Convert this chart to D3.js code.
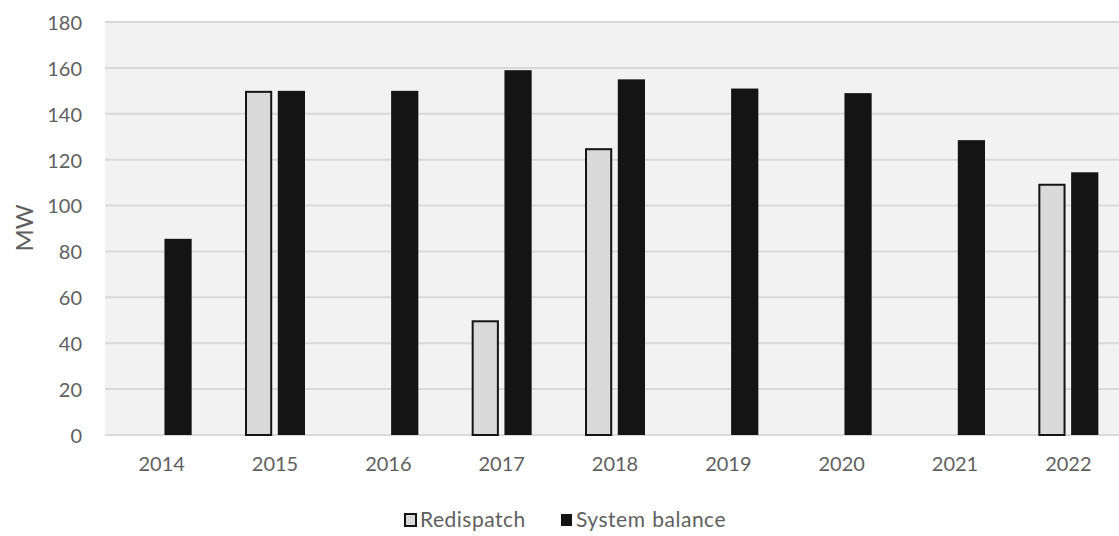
<!DOCTYPE html>
<html><head><meta charset="utf-8">
<script src="https://cdn.jsdelivr.net/npm/d3@7"></script>
<style>body{margin:0;background:#fff}svg{display:block}text{font-family:Lato,"Open Sans",sans-serif;fill:#5f5f5f}</style>
</head><body>
<script>
const years = ["2014","2015","2016","2017","2018","2019","2020","2021","2022"];
const redispatch = [0,150,0,50,125,0,0,0,109.5];
const systemBalance = [85.5,150,150,159,155,151,149,128.5,114.5];
const seriesNames = ["Redispatch","System balance"];
const yTicks = [0,20,40,60,80,100,120,140,160,180];

const W=1119,H=536;
const svg=d3.select("body").append("svg").attr("width",W).attr("height",H);
const x=d3.scaleBand().domain(years).range([105,1125]).paddingInner(0).paddingOuter(0);
const y=d3.scaleLinear().domain([0,180]).range([435,22]);
const sub=d3.scaleBand().domain(seriesNames).range([-30,30]).paddingInner(0.17);

svg.append("rect").attr("x",105).attr("y",y(180)).attr("width",W-105).attr("height",y(0)-y(180)).attr("fill","#f2f2f2");
svg.append("g").selectAll("line").data(yTicks).join("line")
 .attr("x1",105).attr("x2",W).attr("y1",d=>y(d)).attr("y2",d=>y(d))
 .attr("stroke","#d9d9d9").attr("stroke-width",2);

const yAxis=svg.append("g").attr("transform","translate(92,1)").call(d3.axisLeft(y).tickValues(yTicks).tickSize(0).tickPadding(10));
yAxis.select(".domain").remove();
yAxis.selectAll("text").attr("font-size",20).style("font-family","Lato");

const xAxis=svg.append("g").attr("transform","translate(0,435)").call(d3.axisBottom(x).tickSize(0).tickPadding(22));
xAxis.select(".domain").remove();
xAxis.selectAll("text").attr("font-size",20).style("font-family","Lato");

svg.append("text").attr("transform","translate(33,228) rotate(-90)").attr("text-anchor","middle").attr("font-size",24).text("MW");

const data=years.map((yr,i)=>({yr,vals:[{s:seriesNames[0],v:redispatch[i]},{s:seriesNames[1],v:systemBalance[i]}]}));
const g=svg.append("g").selectAll("g").data(data).join("g").attr("transform",d=>`translate(${x(d.yr)+x.bandwidth()/2},0)`);
g.selectAll("rect").data(d=>d.vals.filter(o=>o.v>0)).join("rect")
 .attr("x",d=>sub(d.s)+(d.s===seriesNames[0]?1:0))
 .attr("width",d=>sub.bandwidth()-(d.s===seriesNames[0]?2:0))
 .attr("y",d=>y(d.v)+(d.s===seriesNames[0]?1:0))
 .attr("height",d=>y(0)-y(d.v)-(d.s===seriesNames[0]?1:0))
 .attr("fill",d=>d.s===seriesNames[0]?"#d9d9d9":"#141414")
 .attr("stroke",d=>d.s===seriesNames[0]?"#141414":"none")
 .attr("stroke-width",2);

const leg=svg.append("g");
const items=[{s:seriesNames[0],x:404,fill:"#d9d9d9",stroke:"#141414"},{s:seriesNames[1],x:560,fill:"#141414",stroke:"none"}];
items.forEach(it=>{
 leg.append("rect").attr("x",it.x+1).attr("y",514).attr("width",11).attr("height",12).attr("fill",it.fill).attr("stroke",it.stroke).attr("stroke-width",2);
 leg.append("text").attr("x",it.x+16).attr("y",527).attr("font-size",21).attr("letter-spacing",0.5).attr("word-spacing",1).text(it.s);
});
</script>
</body></html>
